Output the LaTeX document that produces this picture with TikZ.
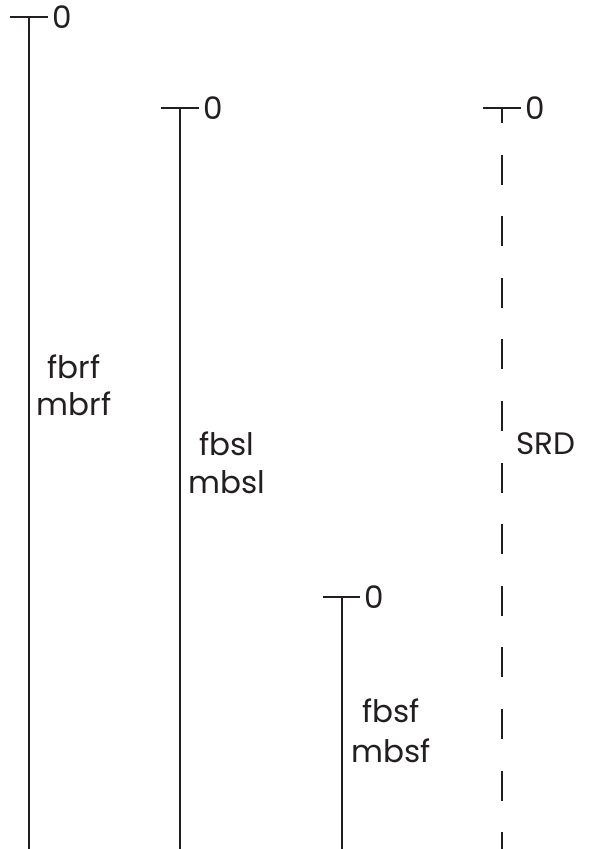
\documentclass[tikz,border=0pt]{standalone}
\usepackage{fontspec}
\setmainfont{Poppins}
\definecolor{ink}{HTML}{231F20}
\begin{document}
\begin{tikzpicture}[x=1pt,y=-1pt,
  axisline/.style={draw=ink,line width=2.8pt},
  srdline/.style={draw=ink,line width=2.8pt,dash pattern=on 30pt off 31.6pt,dash phase=15pt},
  tickline/.style={draw=ink,line width=2.8pt},
  zerolbl/.style={anchor=west,inner sep=0pt,xshift=4pt,text=ink,font=\fontsize{31}{37}\selectfont},
  axlbl/.style={anchor=base,inner sep=0pt,text=ink,font=\fontsize{31}{37}\selectfont}]
\useasboundingbox[fill=white] (0,0) rectangle (590,849);
% axis 1
\coordinate (t1) at (29,17); \coordinate (b1) at (29,849);
\coordinate (t1l) at (10,17); \coordinate (t1r) at (48,17);
\draw[axisline] (t1) -- (b1);
\draw[tickline] (t1l) -- (t1r);
\node[zerolbl] (z1) at (t1r) {0};
\node[axlbl] (l1a) at (74,378) {fbrf};
\node[axlbl] (l1b) at (74,415) {mbrf};
% axis 2
\coordinate (t2) at (180,108); \coordinate (b2) at (180,849);
\coordinate (t2l) at (161,108); \coordinate (t2r) at (199,108);
\draw[axisline] (t2) -- (b2);
\draw[tickline] (t2l) -- (t2r);
\node[zerolbl] (z2) at (t2r) {0};
\node[axlbl] (l2a) at (227,455) {fbsl};
\node[axlbl] (l2b) at (227,493) {mbsl};
% axis 3
\coordinate (t3) at (342,597); \coordinate (b3) at (342,849);
\coordinate (t3l) at (323,597); \coordinate (t3r) at (360,597);
\draw[axisline] (t3) -- (b3);
\draw[tickline] (t3l) -- (t3r);
\node[zerolbl] (z3) at (t3r) {0};
\node[axlbl] (l3a) at (391,722) {fbsf};
\node[axlbl] (l3b) at (391,762) {mbsf};
% SRD
\coordinate (t4) at (502,108); \coordinate (b4) at (502,849);
\coordinate (t4l) at (483,108); \coordinate (t4r) at (521,108);
\draw[srdline] (t4) -- (b4);
\draw[tickline] (t4l) -- (t4r);
\node[zerolbl] (z4) at (t4r) {0};
\node[axlbl] (l4) at (546,454) {SRD};
\end{tikzpicture}
\end{document}
